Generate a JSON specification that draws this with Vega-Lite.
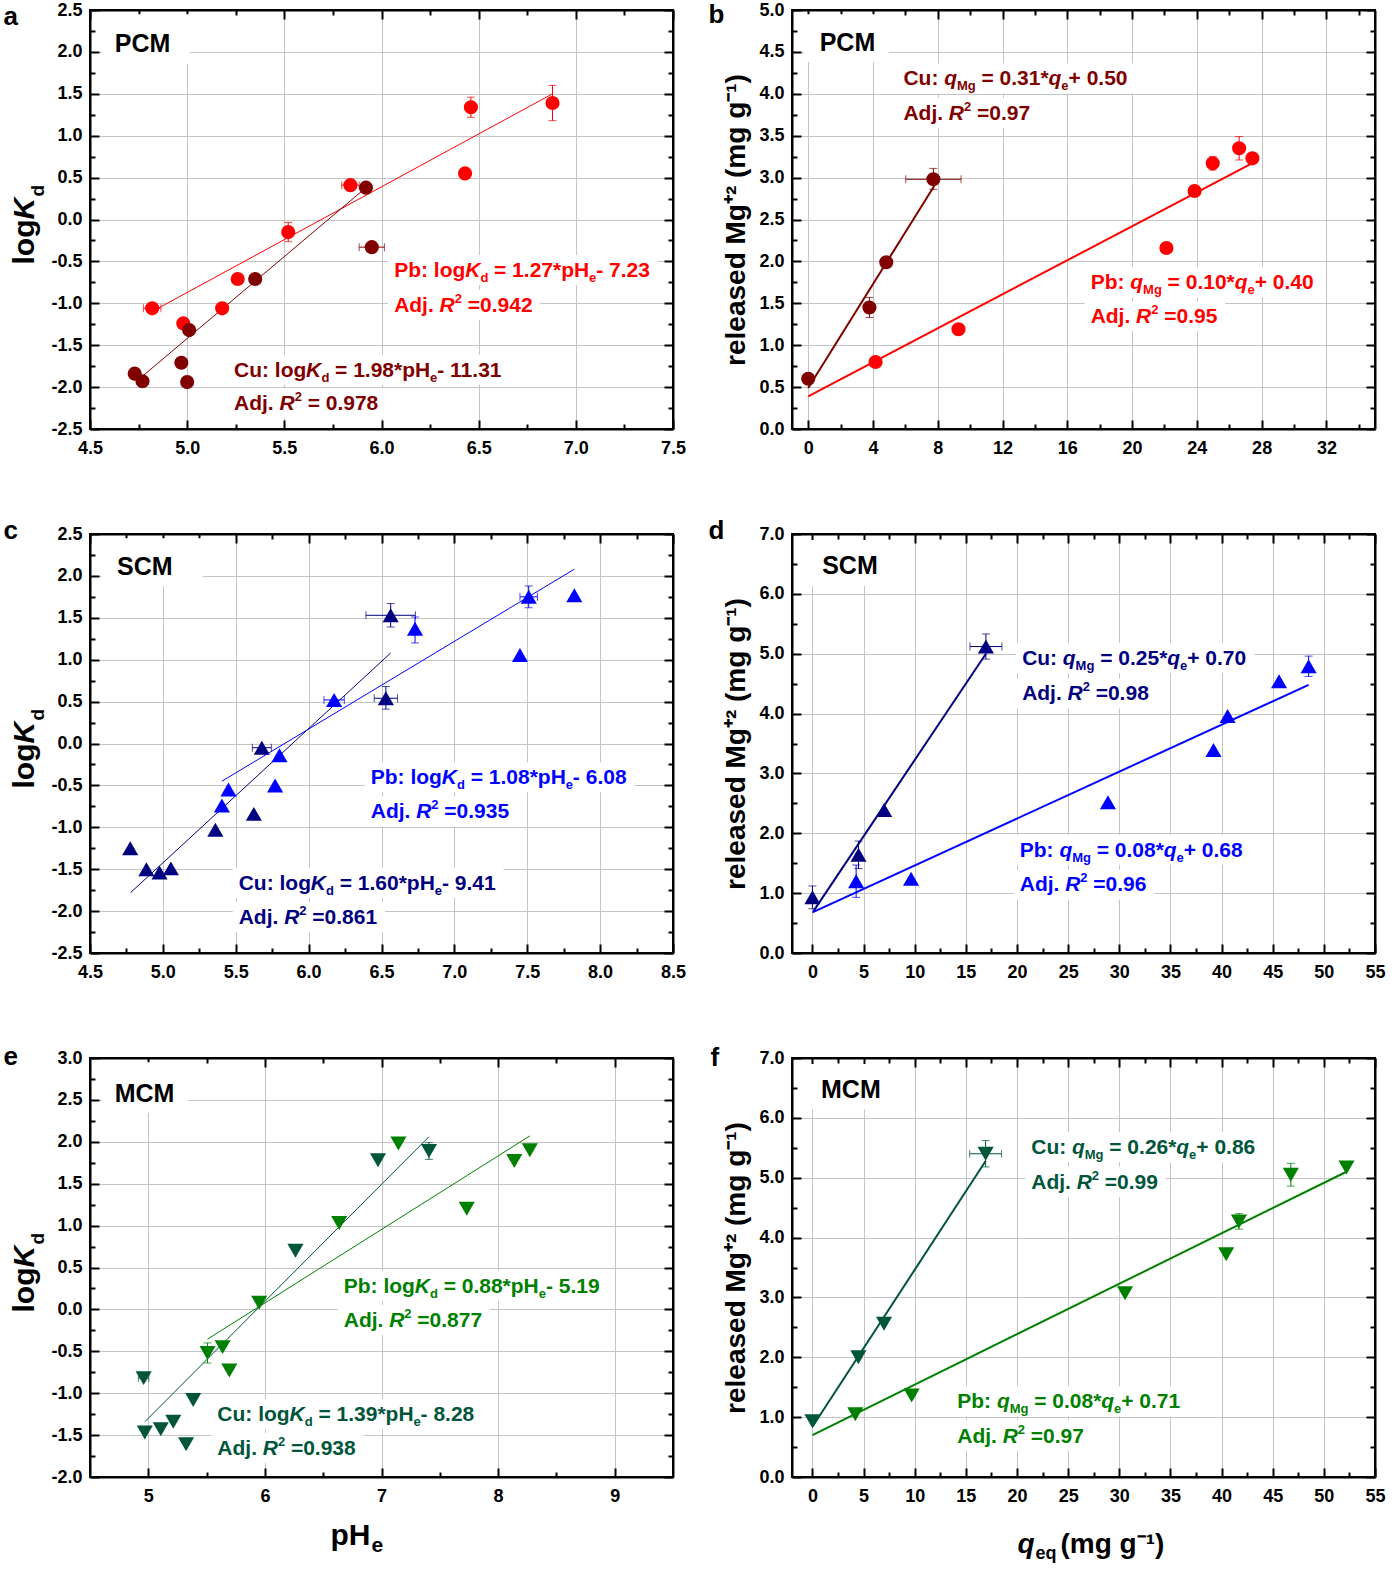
{"$schema":"https://vega.github.io/schema/vega-lite/v6.json",
"background":"white",
"padding":{"left":2,"top":0,"right":5,"bottom":5},
"datasets":{"d":[
{"p":"a","k":"box","x":4.56,"x2":5.015,"y":1.86,"y2":2.45},
{"p":"a","k":"box","x":6.034,"x2":7.422,"y":-0.783,"y2":-0.425},
{"p":"a","k":"box","x":6.034,"x2":6.817,"y":-1.195,"y2":-0.837},
{"p":"a","k":"box","x":5.21,"x2":6.664,"y":-1.971,"y2":-1.613},
{"p":"a","k":"box","x":5.21,"x2":6.024,"y":-2.371,"y2":-2.013},
{"p":"a","k":"pt","s":"Pb","x":4.82,"y":-1.06,"xl":4.775,"xh":4.865},
{"p":"a","k":"pt","s":"Pb","x":4.98,"y":-1.24},
{"p":"a","k":"pt","s":"Pb","x":5.18,"y":-1.06},
{"p":"a","k":"pt","s":"Pb","x":5.26,"y":-0.71},
{"p":"a","k":"pt","s":"Pb","x":5.52,"y":-0.15,"yl":-0.265,"yh":-0.035},
{"p":"a","k":"pt","s":"Pb","x":5.84,"y":0.41,"xl":5.795,"xh":5.885},
{"p":"a","k":"pt","s":"Pb","x":6.43,"y":0.55},
{"p":"a","k":"pt","s":"Pb","x":6.46,"y":1.34,"yl":1.22,"yh":1.46},
{"p":"a","k":"pt","s":"Pb","x":6.88,"y":1.39,"yl":1.18,"yh":1.6},
{"p":"a","k":"pt","s":"Cu","x":4.73,"y":-1.84},
{"p":"a","k":"pt","s":"Cu","x":4.77,"y":-1.93},
{"p":"a","k":"pt","s":"Cu","x":4.97,"y":-1.71},
{"p":"a","k":"pt","s":"Cu","x":5.0,"y":-1.94},
{"p":"a","k":"pt","s":"Cu","x":5.01,"y":-1.32},
{"p":"a","k":"pt","s":"Cu","x":5.35,"y":-0.71},
{"p":"a","k":"pt","s":"Cu","x":5.92,"y":0.38},
{"p":"a","k":"pt","s":"Cu","x":5.95,"y":-0.33,"xl":5.885,"xh":6.015},
{"p":"a","k":"fit","s":"Pb","x":4.85,"y":-1.06},
{"p":"a","k":"fit","s":"Pb","x":6.88,"y":1.5},
{"p":"a","k":"fit","s":"Cu","x":4.77,"y":-1.87},
{"p":"a","k":"fit","s":"Cu","x":5.91,"y":0.36},
{"p":"a","k":"h","x":4.628,"y":2.0,"t":"PCM"},
{"p":"a","k":"m","s":"Pb","x":6.065,"y":-0.688,"t":"Pb: log"},
{"p":"a","k":"i","s":"Pb","x":6.431,"y":-0.688,"t":"K"},
{"p":"a","k":"b","s":"Pb","x":6.509,"y":-0.688,"t":"d"},
{"p":"a","k":"m","s":"Pb","x":6.579,"y":-0.688,"t":"= 1.27*pH"},
{"p":"a","k":"b","s":"Pb","x":7.068,"y":-0.688,"t":"e"},
{"p":"a","k":"m","s":"Pb","x":7.105,"y":-0.688,"t":"- 7.23"},
{"p":"a","k":"m","s":"Pb","x":6.065,"y":-1.1,"t":"Adj."},
{"p":"a","k":"i","s":"Pb","x":6.299,"y":-1.1,"t":"R"},
{"p":"a","k":"u","s":"Pb","x":6.377,"y":-1.1,"t":"2"},
{"p":"a","k":"m","s":"Pb","x":6.444,"y":-1.1,"t":"=0.942"},
{"p":"a","k":"m","s":"Cu","x":5.241,"y":-1.876,"t":"Cu: log"},
{"p":"a","k":"i","s":"Cu","x":5.612,"y":-1.876,"t":"K"},
{"p":"a","k":"b","s":"Cu","x":5.691,"y":-1.876,"t":"d"},
{"p":"a","k":"m","s":"Cu","x":5.761,"y":-1.876,"t":"= 1.98*pH"},
{"p":"a","k":"b","s":"Cu","x":6.25,"y":-1.876,"t":"e"},
{"p":"a","k":"m","s":"Cu","x":6.287,"y":-1.876,"t":"- 11.31"},
{"p":"a","k":"m","s":"Cu","x":5.241,"y":-2.276,"t":"Adj."},
{"p":"a","k":"i","s":"Cu","x":5.475,"y":-2.276,"t":"R"},
{"p":"a","k":"u","s":"Cu","x":5.553,"y":-2.276,"t":"2"},
{"p":"a","k":"m","s":"Cu","x":5.62,"y":-2.276,"t":"= 0.978"},

{"p":"b","k":"box","x":-0.26,"x2":4.98,"y":4.38,"y2":4.95},
{"p":"b","k":"box","x":5.51,"x2":20.2,"y":4.005,"y2":4.363},
{"p":"b","k":"box","x":5.51,"x2":14.19,"y":3.592,"y2":3.95},
{"p":"b","k":"box","x":17.07,"x2":31.7,"y":1.573,"y2":1.931},
{"p":"b","k":"box","x":17.07,"x2":25.75,"y":1.167,"y2":1.525},
{"p":"b","k":"pt","s":"Pb","x":4.16,"y":0.8},
{"p":"b","k":"pt","s":"Pb","x":9.28,"y":1.19},
{"p":"b","k":"pt","s":"Pb","x":22.12,"y":2.16},
{"p":"b","k":"pt","s":"Pb","x":23.86,"y":2.84},
{"p":"b","k":"pt","s":"Pb","x":24.98,"y":3.17,"yl":3.09,"yh":3.25},
{"p":"b","k":"pt","s":"Pb","x":26.61,"y":3.35,"yl":3.21,"yh":3.49},
{"p":"b","k":"pt","s":"Pb","x":27.43,"y":3.23},
{"p":"b","k":"pt","s":"Cu","x":0,"y":0.6},
{"p":"b","k":"pt","s":"Cu","x":3.78,"y":1.45,"yl":1.33,"yh":1.57},
{"p":"b","k":"pt","s":"Cu","x":4.82,"y":1.99},
{"p":"b","k":"pt","s":"Cu","x":7.73,"y":2.98,"xl":6.02,"xh":9.44,"yl":2.86,"yh":3.11},
{"p":"b","k":"fit","s":"Pb","x":0,"y":0.39},
{"p":"b","k":"fit","s":"Pb","x":27.4,"y":3.17},
{"p":"b","k":"fit","s":"Cu","x":0,"y":0.49},
{"p":"b","k":"fit","s":"Cu","x":7.78,"y":2.9},
{"p":"b","k":"h","x":0.71,"y":4.515,"t":"PCM"},
{"p":"b","k":"m","s":"Cu","x":5.88,"y":4.1,"t":"Cu:"},
{"p":"b","k":"i","s":"Cu","x":8.395,"y":4.1,"t":"q"},
{"p":"b","k":"b","s":"Cu","x":9.185,"y":4.1,"t":"Mg"},
{"p":"b","k":"m","s":"Cu","x":10.702,"y":4.1,"t":"= 0.31*"},
{"p":"b","k":"i","s":"Cu","x":14.844,"y":4.1,"t":"q"},
{"p":"b","k":"b","s":"Cu","x":15.633,"y":4.1,"t":"e"},
{"p":"b","k":"m","s":"Cu","x":16.077,"y":4.1,"t":"+ 0.50"},
{"p":"b","k":"m","s":"Cu","x":5.88,"y":3.687,"t":"Adj."},
{"p":"b","k":"i","s":"Cu","x":8.685,"y":3.687,"t":"R"},
{"p":"b","k":"u","s":"Cu","x":9.622,"y":3.687,"t":"2"},
{"p":"b","k":"m","s":"Cu","x":10.424,"y":3.687,"t":"=0.97"},
{"p":"b","k":"m","s":"Pb","x":17.44,"y":1.668,"t":"Pb:"},
{"p":"b","k":"i","s":"Pb","x":19.888,"y":1.668,"t":"q"},
{"p":"b","k":"b","s":"Pb","x":20.677,"y":1.668,"t":"Mg"},
{"p":"b","k":"m","s":"Pb","x":22.194,"y":1.668,"t":"= 0.10*"},
{"p":"b","k":"i","s":"Pb","x":26.336,"y":1.668,"t":"q"},
{"p":"b","k":"b","s":"Pb","x":27.126,"y":1.668,"t":"e"},
{"p":"b","k":"m","s":"Pb","x":27.569,"y":1.668,"t":"+ 0.40"},
{"p":"b","k":"m","s":"Pb","x":17.44,"y":1.262,"t":"Adj."},
{"p":"b","k":"i","s":"Pb","x":20.245,"y":1.262,"t":"R"},
{"p":"b","k":"u","s":"Pb","x":21.182,"y":1.262,"t":"2"},
{"p":"b","k":"m","s":"Pb","x":21.984,"y":1.262,"t":"=0.95"},

{"p":"c","k":"box","x":4.58,"x2":5.275,"y":1.88,"y2":2.45},
{"p":"c","k":"box","x":6.385,"x2":8.236,"y":-0.583,"y2":-0.225},
{"p":"c","k":"box","x":6.385,"x2":7.43,"y":-0.989,"y2":-0.631},
{"p":"c","k":"box","x":5.479,"x2":7.337,"y":-1.843,"y2":-1.485},
{"p":"c","k":"box","x":5.479,"x2":6.524,"y":-2.249,"y2":-1.891},
{"p":"c","k":"pt","s":"Pb","x":5.405,"y":-0.74},
{"p":"c","k":"pt","s":"Pb","x":5.45,"y":-0.55},
{"p":"c","k":"pt","s":"Pb","x":5.77,"y":-0.5},
{"p":"c","k":"pt","s":"Pb","x":5.8,"y":-0.14},
{"p":"c","k":"pt","s":"Pb","x":6.175,"y":0.52,"xl":6.105,"xh":6.245},
{"p":"c","k":"pt","s":"Pb","x":6.73,"y":1.37,"yl":1.2,"yh":1.51},
{"p":"c","k":"pt","s":"Pb","x":7.45,"y":1.055},
{"p":"c","k":"pt","s":"Pb","x":7.51,"y":1.75,"xl":7.45,"xh":7.57,"yl":1.62,"yh":1.88},
{"p":"c","k":"pt","s":"Pb","x":7.823,"y":1.77},
{"p":"c","k":"pt","s":"Cu","x":4.776,"y":-1.25},
{"p":"c","k":"pt","s":"Cu","x":4.887,"y":-1.5},
{"p":"c","k":"pt","s":"Cu","x":4.977,"y":-1.54},
{"p":"c","k":"pt","s":"Cu","x":5.055,"y":-1.49},
{"p":"c","k":"pt","s":"Cu","x":5.36,"y":-1.03},
{"p":"c","k":"pt","s":"Cu","x":5.624,"y":-0.84},
{"p":"c","k":"pt","s":"Cu","x":5.679,"y":-0.05,"xl":5.614,"xh":5.744},
{"p":"c","k":"pt","s":"Cu","x":6.563,"y":1.53,"xl":6.393,"xh":6.733,"yl":1.39,"yh":1.67},
{"p":"c","k":"pt","s":"Cu","x":6.53,"y":0.54,"xl":6.45,"xh":6.61,"yl":0.41,"yh":0.68},
{"p":"c","k":"fit","s":"Cu","x":4.778,"y":-1.78},
{"p":"c","k":"fit","s":"Cu","x":6.563,"y":1.08},
{"p":"c","k":"fit","s":"Pb","x":5.405,"y":-0.45},
{"p":"c","k":"fit","s":"Pb","x":7.823,"y":2.08},
{"p":"c","k":"h","x":4.685,"y":2.012,"t":"SCM"},
{"p":"c","k":"m","s":"Pb","x":6.426,"y":-0.488,"t":"Pb: log"},
{"p":"c","k":"i","s":"Pb","x":6.914,"y":-0.488,"t":"K"},
{"p":"c","k":"b","s":"Pb","x":7.018,"y":-0.488,"t":"d"},
{"p":"c","k":"m","s":"Pb","x":7.112,"y":-0.488,"t":"= 1.08*pH"},
{"p":"c","k":"b","s":"Pb","x":7.764,"y":-0.488,"t":"e"},
{"p":"c","k":"m","s":"Pb","x":7.813,"y":-0.488,"t":"- 6.08"},
{"p":"c","k":"m","s":"Pb","x":6.426,"y":-0.894,"t":"Adj."},
{"p":"c","k":"i","s":"Pb","x":6.738,"y":-0.894,"t":"R"},
{"p":"c","k":"u","s":"Pb","x":6.842,"y":-0.894,"t":"2"},
{"p":"c","k":"m","s":"Pb","x":6.931,"y":-0.894,"t":"=0.935"},
{"p":"c","k":"m","s":"Cu","x":5.52,"y":-1.748,"t":"Cu: log"},
{"p":"c","k":"i","s":"Cu","x":6.015,"y":-1.748,"t":"K"},
{"p":"c","k":"b","s":"Cu","x":6.119,"y":-1.748,"t":"d"},
{"p":"c","k":"m","s":"Cu","x":6.213,"y":-1.748,"t":"= 1.60*pH"},
{"p":"c","k":"b","s":"Cu","x":6.865,"y":-1.748,"t":"e"},
{"p":"c","k":"m","s":"Cu","x":6.915,"y":-1.748,"t":"- 9.41"},
{"p":"c","k":"m","s":"Cu","x":5.52,"y":-2.154,"t":"Adj."},
{"p":"c","k":"i","s":"Cu","x":5.832,"y":-2.154,"t":"R"},
{"p":"c","k":"u","s":"Cu","x":5.936,"y":-2.154,"t":"2"},
{"p":"c","k":"m","s":"Cu","x":6.025,"y":-2.154,"t":"=0.861"},

{"p":"d","k":"box","x":-0.83,"x2":8.5,"y":6.13,"y2":6.9},
{"p":"d","k":"box","x":19.9,"x2":43.2,"y":4.676,"y2":5.178},
{"p":"d","k":"box","x":19.9,"x2":33.7,"y":4.086,"y2":4.588},
{"p":"d","k":"box","x":19.7,"x2":42.8,"y":1.474,"y2":1.976},
{"p":"d","k":"box","x":19.7,"x2":33.4,"y":0.894,"y2":1.396},
{"p":"d","k":"pt","s":"Pb","x":4.27,"y":1.2,"yl":0.93,"yh":1.47},
{"p":"d","k":"pt","s":"Pb","x":9.64,"y":1.24},
{"p":"d","k":"pt","s":"Pb","x":28.89,"y":2.52},
{"p":"d","k":"pt","s":"Pb","x":39.21,"y":3.39},
{"p":"d","k":"pt","s":"Pb","x":40.59,"y":3.96},
{"p":"d","k":"pt","s":"Pb","x":45.62,"y":4.54},
{"p":"d","k":"pt","s":"Pb","x":48.51,"y":4.79,"yl":4.62,"yh":4.96},
{"p":"d","k":"pt","s":"Cu","x":0,"y":0.93,"yl":0.74,"yh":1.12},
{"p":"d","k":"pt","s":"Cu","x":4.5,"y":1.64,"yl":1.41,"yh":1.87},
{"p":"d","k":"pt","s":"Cu","x":7.01,"y":2.39},
{"p":"d","k":"pt","s":"Cu","x":16.96,"y":5.12,"xl":15.4,"xh":18.52,"yl":4.91,"yh":5.33},
{"p":"d","k":"fit","s":"Cu","x":0.1,"y":0.7},
{"p":"d","k":"fit","s":"Cu","x":16.96,"y":5.0},
{"p":"d","k":"fit","s":"Pb","x":0,"y":0.68},
{"p":"d","k":"fit","s":"Pb","x":48.51,"y":4.48},
{"p":"d","k":"h","x":0.95,"y":6.33,"t":"SCM"},
{"p":"d","k":"m","s":"Cu","x":20.5,"y":4.81,"t":"Cu:"},
{"p":"d","k":"i","s":"Cu","x":24.48,"y":4.81,"t":"q"},
{"p":"d","k":"b","s":"Cu","x":25.729,"y":4.81,"t":"Mg"},
{"p":"d","k":"m","s":"Cu","x":28.129,"y":4.81,"t":"= 0.25*"},
{"p":"d","k":"i","s":"Cu","x":34.685,"y":4.81,"t":"q"},
{"p":"d","k":"b","s":"Cu","x":35.934,"y":4.81,"t":"e"},
{"p":"d","k":"m","s":"Cu","x":36.637,"y":4.81,"t":"+ 0.70"},
{"p":"d","k":"m","s":"Cu","x":20.5,"y":4.22,"t":"Adj."},
{"p":"d","k":"i","s":"Cu","x":24.939,"y":4.22,"t":"R"},
{"p":"d","k":"u","s":"Cu","x":26.422,"y":4.22,"t":"2"},
{"p":"d","k":"m","s":"Cu","x":27.69,"y":4.22,"t":"=0.98"},
{"p":"d","k":"m","s":"Pb","x":20.27,"y":1.608,"t":"Pb:"},
{"p":"d","k":"i","s":"Pb","x":24.143,"y":1.608,"t":"q"},
{"p":"d","k":"b","s":"Pb","x":25.392,"y":1.608,"t":"Mg"},
{"p":"d","k":"m","s":"Pb","x":27.792,"y":1.608,"t":"= 0.08*"},
{"p":"d","k":"i","s":"Pb","x":34.348,"y":1.608,"t":"q"},
{"p":"d","k":"b","s":"Pb","x":35.597,"y":1.608,"t":"e"},
{"p":"d","k":"m","s":"Pb","x":36.299,"y":1.608,"t":"+ 0.68"},
{"p":"d","k":"m","s":"Pb","x":20.27,"y":1.028,"t":"Adj."},
{"p":"d","k":"i","s":"Pb","x":24.709,"y":1.028,"t":"R"},
{"p":"d","k":"u","s":"Pb","x":26.192,"y":1.028,"t":"2"},
{"p":"d","k":"m","s":"Pb","x":27.46,"y":1.028,"t":"=0.96"},

{"p":"e","k":"box","x":4.6,"x2":5.343,"y":2.346,"y2":2.95},
{"p":"e","k":"box","x":6.625,"x2":8.937,"y":0.102,"y2":0.46},
{"p":"e","k":"box","x":6.625,"x2":7.93,"y":-0.304,"y2":0.054},
{"p":"e","k":"box","x":5.541,"x2":7.863,"y":-1.424,"y2":-1.066},
{"p":"e","k":"box","x":5.541,"x2":6.846,"y":-1.83,"y2":-1.472},
{"p":"e","k":"pt","s":"Pb","x":5.508,"y":-0.52,"yl":-0.64,"yh":-0.4},
{"p":"e","k":"pt","s":"Pb","x":5.637,"y":-0.45},
{"p":"e","k":"pt","s":"Pb","x":5.695,"y":-0.73},
{"p":"e","k":"pt","s":"Pb","x":5.951,"y":0.08},
{"p":"e","k":"pt","s":"Pb","x":6.637,"y":1.03},
{"p":"e","k":"pt","s":"Pb","x":7.145,"y":1.98},
{"p":"e","k":"pt","s":"Pb","x":7.731,"y":1.2},
{"p":"e","k":"pt","s":"Pb","x":8.139,"y":1.77},
{"p":"e","k":"pt","s":"Pb","x":8.272,"y":1.9},
{"p":"e","k":"pt","s":"Cu","x":4.96,"y":-0.82,"xl":4.915,"xh":5.005},
{"p":"e","k":"pt","s":"Cu","x":4.97,"y":-1.47},
{"p":"e","k":"pt","s":"Cu","x":5.107,"y":-1.43},
{"p":"e","k":"pt","s":"Cu","x":5.214,"y":-1.34},
{"p":"e","k":"pt","s":"Cu","x":5.385,"y":-1.08},
{"p":"e","k":"pt","s":"Cu","x":5.324,"y":-1.61},
{"p":"e","k":"pt","s":"Cu","x":6.262,"y":0.7},
{"p":"e","k":"pt","s":"Cu","x":6.97,"y":1.78},
{"p":"e","k":"pt","s":"Cu","x":7.407,"y":1.89,"yl":1.79,"yh":1.99},
{"p":"e","k":"fit","s":"Cu","x":4.971,"y":-1.34},
{"p":"e","k":"fit","s":"Cu","x":7.407,"y":2.06},
{"p":"e","k":"fit","s":"Pb","x":5.508,"y":-0.355},
{"p":"e","k":"fit","s":"Pb","x":8.272,"y":2.07},
{"p":"e","k":"h","x":4.712,"y":2.472,"t":"MCM"},
{"p":"e","k":"m","s":"Pb","x":6.676,"y":0.197,"t":"Pb: log"},
{"p":"e","k":"i","s":"Pb","x":7.286,"y":0.197,"t":"K"},
{"p":"e","k":"b","s":"Pb","x":7.416,"y":0.197,"t":"d"},
{"p":"e","k":"m","s":"Pb","x":7.533,"y":0.197,"t":"= 0.88*pH"},
{"p":"e","k":"b","s":"Pb","x":8.348,"y":0.197,"t":"e"},
{"p":"e","k":"m","s":"Pb","x":8.41,"y":0.197,"t":"- 5.19"},
{"p":"e","k":"m","s":"Pb","x":6.676,"y":-0.209,"t":"Adj."},
{"p":"e","k":"i","s":"Pb","x":7.066,"y":-0.209,"t":"R"},
{"p":"e","k":"u","s":"Pb","x":7.196,"y":-0.209,"t":"2"},
{"p":"e","k":"m","s":"Pb","x":7.307,"y":-0.209,"t":"=0.877"},
{"p":"e","k":"m","s":"Cu","x":5.592,"y":-1.329,"t":"Cu: log"},
{"p":"e","k":"i","s":"Cu","x":6.211,"y":-1.329,"t":"K"},
{"p":"e","k":"b","s":"Cu","x":6.341,"y":-1.329,"t":"d"},
{"p":"e","k":"m","s":"Cu","x":6.459,"y":-1.329,"t":"= 1.39*pH"},
{"p":"e","k":"b","s":"Cu","x":7.274,"y":-1.329,"t":"e"},
{"p":"e","k":"m","s":"Cu","x":7.335,"y":-1.329,"t":"- 8.28"},
{"p":"e","k":"m","s":"Cu","x":5.592,"y":-1.735,"t":"Adj."},
{"p":"e","k":"i","s":"Cu","x":5.982,"y":-1.735,"t":"R"},
{"p":"e","k":"u","s":"Cu","x":6.112,"y":-1.735,"t":"2"},
{"p":"e","k":"m","s":"Cu","x":6.223,"y":-1.735,"t":"=0.938"},

{"p":"f","k":"box","x":-0.83,"x2":8.5,"y":6.14,"y2":6.9},
{"p":"f","k":"box","x":20.8,"x2":44.06,"y":5.258,"y2":5.76},
{"p":"f","k":"box","x":20.8,"x2":34.55,"y":4.678,"y2":5.18},
{"p":"f","k":"box","x":13.57,"x2":36.72,"y":1.015,"y2":1.517},
{"p":"f","k":"box","x":13.57,"x2":27.32,"y":0.441,"y2":0.943},
{"p":"f","k":"pt","s":"Pb","x":4.19,"y":1.05},
{"p":"f","k":"pt","s":"Pb","x":9.7,"y":1.36},
{"p":"f","k":"pt","s":"Pb","x":30.56,"y":3.07},
{"p":"f","k":"pt","s":"Pb","x":40.45,"y":3.72},
{"p":"f","k":"pt","s":"Pb","x":41.7,"y":4.27,"yl":4.14,"yh":4.4},
{"p":"f","k":"pt","s":"Pb","x":46.77,"y":5.05,"yl":4.86,"yh":5.24},
{"p":"f","k":"pt","s":"Pb","x":52.21,"y":5.17},
{"p":"f","k":"pt","s":"Cu","x":0,"y":0.93},
{"p":"f","k":"pt","s":"Cu","x":4.49,"y":2.0},
{"p":"f","k":"pt","s":"Cu","x":7.0,"y":2.56},
{"p":"f","k":"pt","s":"Cu","x":16.93,"y":5.4,"xl":15.37,"xh":18.49,"yl":5.18,"yh":5.62},
{"p":"f","k":"fit","s":"Cu","x":0,"y":0.84},
{"p":"f","k":"fit","s":"Cu","x":16.93,"y":5.28},
{"p":"f","k":"fit","s":"Pb","x":0,"y":0.7},
{"p":"f","k":"fit","s":"Pb","x":52.21,"y":5.1},
{"p":"f","k":"h","x":0.84,"y":6.34,"t":"MCM"},
{"p":"f","k":"m","s":"Cu","x":21.39,"y":5.392,"t":"Cu:"},
{"p":"f","k":"i","s":"Cu","x":25.37,"y":5.392,"t":"q"},
{"p":"f","k":"b","s":"Cu","x":26.619,"y":5.392,"t":"Mg"},
{"p":"f","k":"m","s":"Cu","x":29.019,"y":5.392,"t":"= 0.26*"},
{"p":"f","k":"i","s":"Cu","x":35.575,"y":5.392,"t":"q"},
{"p":"f","k":"b","s":"Cu","x":36.824,"y":5.392,"t":"e"},
{"p":"f","k":"m","s":"Cu","x":37.527,"y":5.392,"t":"+ 0.86"},
{"p":"f","k":"m","s":"Cu","x":21.39,"y":4.812,"t":"Adj."},
{"p":"f","k":"i","s":"Cu","x":25.829,"y":4.812,"t":"R"},
{"p":"f","k":"u","s":"Cu","x":27.312,"y":4.812,"t":"2"},
{"p":"f","k":"m","s":"Cu","x":28.58,"y":4.812,"t":"=0.99"},
{"p":"f","k":"m","s":"Pb","x":14.16,"y":1.149,"t":"Pb:"},
{"p":"f","k":"i","s":"Pb","x":18.033,"y":1.149,"t":"q"},
{"p":"f","k":"b","s":"Pb","x":19.282,"y":1.149,"t":"Mg"},
{"p":"f","k":"m","s":"Pb","x":21.682,"y":1.149,"t":"= 0.08*"},
{"p":"f","k":"i","s":"Pb","x":28.238,"y":1.149,"t":"q"},
{"p":"f","k":"b","s":"Pb","x":29.487,"y":1.149,"t":"e"},
{"p":"f","k":"m","s":"Pb","x":30.189,"y":1.149,"t":"+ 0.71"},
{"p":"f","k":"m","s":"Pb","x":14.16,"y":0.575,"t":"Adj."},
{"p":"f","k":"i","s":"Pb","x":18.599,"y":0.575,"t":"R"},
{"p":"f","k":"u","s":"Pb","x":20.082,"y":0.575,"t":"2"},
{"p":"f","k":"m","s":"Pb","x":21.35,"y":0.575,"t":"=0.97"}
]},
"data":{"name":"d"},
"columns":2,
"spacing":{"row":105,"column":119},
"bounds":"flush",
"resolve":{"scale":{"x":"independent","y":"independent","color":"independent"}},
"concat":[
{"width":583,"height":419,
"transform":[{"filter":"datum.p=='a'"}],
"encoding":{"x":{"field":"x","type":"quantitative","scale":{"domain":[4.5,7.5],"nice":false,"zero":false},"axis":null},
"y":{"field":"y","type":"quantitative","scale":{"domain":[-2.5,2.5],"nice":false,"zero":false},"axis":null},
"color":{"field":"s","type":"nominal","scale":{"domain":["Cu","Pb"],"range":["#800000","#ff0000"]},"legend":null}},
"resolve":{"axis":{"x":"independent","y":"independent"}},
"layer":[
{"transform":[{"filter":"datum.k=='box'"}],"mark":{"type":"rect"},"encoding":{"x2":{"field":"x2"},"y2":{"field":"y2"},"color":{"value":"white"}}},
{"transform":[{"filter":"datum.k=='fit'"}],"mark":{"type":"line","strokeWidth":1}},
{"transform":[{"filter":"datum.k=='pt' && isValid(datum.xl)"}],"mark":{"type":"errorbar","ticks":true,"size":8,"thickness":1},"encoding":{"x":{"field":"xl","type":"quantitative","scale":{"domain":[4.5,7.5],"nice":false,"zero":false},"axis":null},"x2":{"field":"xh"}}},
{"transform":[{"filter":"datum.k=='pt' && isValid(datum.yl)"}],"mark":{"type":"errorbar","ticks":true,"size":8,"thickness":1},"encoding":{"y":{"field":"yl","type":"quantitative","scale":{"domain":[-2.5,2.5],"nice":false,"zero":false},"axis":null},"y2":{"field":"yh"}}},
{"transform":[{"filter":"datum.k=='pt'"}],"mark":{"type":"point","shape":"circle","filled":true,"size":200,"opacity":1}},
{"transform":[{"filter":"datum.k=='h'"}],"mark":{"type":"text","align":"left","baseline":"alphabetic","fontSize":25,"fontWeight":"bold"},"encoding":{"text":{"field":"t"},"color":{"value":"black"}}},
{"transform":[{"filter":"datum.k=='m'"}],"mark":{"type":"text","align":"left","baseline":"alphabetic","fontSize":21,"fontWeight":"bold"},"encoding":{"text":{"field":"t"}}},
{"transform":[{"filter":"datum.k=='i'"}],"mark":{"type":"text","align":"left","baseline":"alphabetic","fontSize":21,"fontWeight":"bold","fontStyle":"italic"},"encoding":{"text":{"field":"t"}}},
{"transform":[{"filter":"datum.k=='b'"}],"mark":{"type":"text","align":"left","baseline":"alphabetic","fontSize":13,"fontWeight":"bold","dy":5},"encoding":{"text":{"field":"t"}}},
{"transform":[{"filter":"datum.k=='u'"}],"mark":{"type":"text","align":"left","baseline":"alphabetic","fontSize":13,"fontWeight":"bold","dy":-9},"encoding":{"text":{"field":"t"}}},
{"mark":{"type":"point","opacity":0},"encoding":{
"x":{"field":"x","type":"quantitative","scale":{"domain":[4.5,7.5],"nice":false,"zero":false},"axis":{"orient":"bottom","values":[4.5,5,5.5,6,6.5,7,7.5],"format":".1f","tickSize":-9,"labelPadding":19,"grid":true,"domain":true,"title":null}},
"y":{"field":"y","type":"quantitative","scale":{"domain":[-2.5,2.5],"nice":false,"zero":false},"axis":{"orient":"left","values":[-2.5,-2,-1.5,-1,-0.5,0,0.5,1,1.5,2,2.5],"format":".1f","tickSize":-9,"labelPadding":17,"grid":true,"domain":true,"title":"log","titleX":-57,"titleY":254,"titleAngle":-90,"titleAlign":"left","titleBaseline":"alphabetic","titleFontSize":30}}}},
{"mark":{"type":"point","opacity":0},"encoding":{
"x":{"field":"x","type":"quantitative","scale":{"domain":[4.5,7.5],"nice":false,"zero":false},"axis":{"orient":"bottom","values":[4.75,5.25,5.75,6.25,6.75,7.25],"tickSize":-5,"labels":false,"grid":false,"title":null}},
"y":{"field":"y","type":"quantitative","scale":{"domain":[-2.5,2.5],"nice":false,"zero":false},"axis":{"orient":"left","values":[-2.25,-1.75,-1.25,-0.75,-0.25,0.25,0.75,1.25,1.75,2.25],"tickSize":-5,"labels":false,"grid":false,"title":"K","titleX":-57,"titleY":209,"titleAngle":-90,"titleAlign":"left","titleBaseline":"alphabetic","titleFontSize":30,"titleFontStyle":"italic"}}}},
{"mark":{"type":"point","opacity":0},"encoding":{
"x":{"field":"x","type":"quantitative","scale":{"domain":[4.5,7.5],"nice":false,"zero":false},"axis":{"orient":"top","values":[4.5,5,5.5,6,6.5,7,7.5],"tickSize":-9,"labels":false,"grid":false,"domain":true,"title":"a","titleX":-87,"titleY":14,"titleAlign":"left","titleBaseline":"alphabetic","titleAngle":0,"titleFontSize":26}},
"y":{"field":"y","type":"quantitative","scale":{"domain":[-2.5,2.5],"nice":false,"zero":false},"axis":{"orient":"right","values":[-2.5,-2,-1.5,-1,-0.5,0,0.5,1,1.5,2,2.5],"tickSize":-9,"labels":false,"grid":false,"domain":true,"title":null}}}},
{"mark":{"type":"point","opacity":0},"encoding":{
"x":{"field":"x","type":"quantitative","scale":{"domain":[4.5,7.5],"nice":false,"zero":false},"axis":{"orient":"top","values":[4.75,5.25,5.75,6.25,6.75,7.25],"tickSize":-5,"labels":false,"grid":false,"title":null}},
"y":{"field":"y","type":"quantitative","scale":{"domain":[-2.5,2.5],"nice":false,"zero":false},"axis":{"orient":"right","values":[-2.25,-1.75,-1.25,-0.75,-0.25,0.25,0.75,1.25,1.75,2.25],"tickSize":-5,"labels":false,"grid":false,"title":"d","titleX":-630,"titleY":186,"titleAngle":-90,"titleAlign":"left","titleBaseline":"alphabetic","titleFontSize":19}}}}
]},

{"width":583,"height":419,
"transform":[{"filter":"datum.p=='b'"}],
"encoding":{"x":{"field":"x","type":"quantitative","scale":{"domain":[-1,35],"nice":false,"zero":false},"axis":null},
"y":{"field":"y","type":"quantitative","scale":{"domain":[0,5],"nice":false,"zero":false},"axis":null},
"color":{"field":"s","type":"nominal","scale":{"domain":["Cu","Pb"],"range":["#800000","#ff0000"]},"legend":null}},
"resolve":{"axis":{"x":"independent","y":"independent"}},
"layer":[
{"transform":[{"filter":"datum.k=='box'"}],"mark":{"type":"rect"},"encoding":{"x2":{"field":"x2"},"y2":{"field":"y2"},"color":{"value":"white"}}},
{"transform":[{"filter":"datum.k=='fit'"}],"mark":{"type":"line","strokeWidth":2}},
{"transform":[{"filter":"datum.k=='pt' && isValid(datum.xl)"}],"mark":{"type":"errorbar","ticks":true,"size":8,"thickness":1},"encoding":{"x":{"field":"xl","type":"quantitative","scale":{"domain":[-1,35],"nice":false,"zero":false},"axis":null},"x2":{"field":"xh"}}},
{"transform":[{"filter":"datum.k=='pt' && isValid(datum.yl)"}],"mark":{"type":"errorbar","ticks":true,"size":8,"thickness":1},"encoding":{"y":{"field":"yl","type":"quantitative","scale":{"domain":[0,5],"nice":false,"zero":false},"axis":null},"y2":{"field":"yh"}}},
{"transform":[{"filter":"datum.k=='pt'"}],"mark":{"type":"point","shape":"circle","filled":true,"size":200,"opacity":1}},
{"transform":[{"filter":"datum.k=='h'"}],"mark":{"type":"text","align":"left","baseline":"alphabetic","fontSize":25,"fontWeight":"bold"},"encoding":{"text":{"field":"t"},"color":{"value":"black"}}},
{"transform":[{"filter":"datum.k=='m'"}],"mark":{"type":"text","align":"left","baseline":"alphabetic","fontSize":21,"fontWeight":"bold"},"encoding":{"text":{"field":"t"}}},
{"transform":[{"filter":"datum.k=='i'"}],"mark":{"type":"text","align":"left","baseline":"alphabetic","fontSize":21,"fontWeight":"bold","fontStyle":"italic"},"encoding":{"text":{"field":"t"}}},
{"transform":[{"filter":"datum.k=='b'"}],"mark":{"type":"text","align":"left","baseline":"alphabetic","fontSize":13,"fontWeight":"bold","dy":5},"encoding":{"text":{"field":"t"}}},
{"transform":[{"filter":"datum.k=='u'"}],"mark":{"type":"text","align":"left","baseline":"alphabetic","fontSize":13,"fontWeight":"bold","dy":-9},"encoding":{"text":{"field":"t"}}},
{"mark":{"type":"point","opacity":0},"encoding":{
"x":{"field":"x","type":"quantitative","scale":{"domain":[-1,35],"nice":false,"zero":false},"axis":{"orient":"bottom","values":[0,4,8,12,16,20,24,28,32],"format":"d","tickSize":-9,"labelPadding":19,"grid":true,"domain":true,"title":null}},
"y":{"field":"y","type":"quantitative","scale":{"domain":[0,5],"nice":false,"zero":false},"axis":{"orient":"left","values":[0,0.5,1,1.5,2,2.5,3,3.5,4,4.5,5],"format":".1f","tickSize":-9,"labelPadding":17,"grid":true,"domain":true,"title":"released Mg\u207a\u00b2 (mg g\u207b\u00b9)","titleFontSize":28,"titlePadding":8}}}},
{"mark":{"type":"point","opacity":0},"encoding":{
"x":{"field":"x","type":"quantitative","scale":{"domain":[-1,35],"nice":false,"zero":false},"axis":{"orient":"bottom","values":[2,6,10,14,18,22,26,30,34],"tickSize":-5,"labels":false,"grid":false,"title":null}},
"y":{"field":"y","type":"quantitative","scale":{"domain":[0,5],"nice":false,"zero":false},"axis":{"orient":"left","values":[0.25,0.75,1.25,1.75,2.25,2.75,3.25,3.75,4.25,4.75],"tickSize":-5,"labels":false,"grid":false,"title":null}}}},
{"mark":{"type":"point","opacity":0},"encoding":{
"x":{"field":"x","type":"quantitative","scale":{"domain":[-1,35],"nice":false,"zero":false},"axis":{"orient":"top","values":[0,4,8,12,16,20,24,28,32],"tickSize":-9,"labels":false,"grid":false,"domain":true,"title":"b","titleX":-84,"titleY":12,"titleAlign":"left","titleBaseline":"alphabetic","titleAngle":0,"titleFontSize":26}},
"y":{"field":"y","type":"quantitative","scale":{"domain":[0,5],"nice":false,"zero":false},"axis":{"orient":"right","values":[0,0.5,1,1.5,2,2.5,3,3.5,4,4.5,5],"tickSize":-9,"labels":false,"grid":false,"domain":true,"title":null}}}},
{"mark":{"type":"point","opacity":0},"encoding":{
"x":{"field":"x","type":"quantitative","scale":{"domain":[-1,35],"nice":false,"zero":false},"axis":{"orient":"top","values":[2,6,10,14,18,22,26,30,34],"tickSize":-5,"labels":false,"grid":false,"title":null}},
"y":{"field":"y","type":"quantitative","scale":{"domain":[0,5],"nice":false,"zero":false},"axis":{"orient":"right","values":[0.25,0.75,1.25,1.75,2.25,2.75,3.25,3.75,4.25,4.75],"tickSize":-5,"labels":false,"grid":false,"title":null}}}}
]},

{"width":583,"height":419,
"transform":[{"filter":"datum.p=='c'"}],
"encoding":{"x":{"field":"x","type":"quantitative","scale":{"domain":[4.5,8.5],"nice":false,"zero":false},"axis":null},
"y":{"field":"y","type":"quantitative","scale":{"domain":[-2.5,2.5],"nice":false,"zero":false},"axis":null},
"color":{"field":"s","type":"nominal","scale":{"domain":["Cu","Pb"],"range":["#000080","#0000ff"]},"legend":null}},
"resolve":{"axis":{"x":"independent","y":"independent"}},
"layer":[
{"transform":[{"filter":"datum.k=='box'"}],"mark":{"type":"rect"},"encoding":{"x2":{"field":"x2"},"y2":{"field":"y2"},"color":{"value":"white"}}},
{"transform":[{"filter":"datum.k=='fit'"}],"mark":{"type":"line","strokeWidth":1}},
{"transform":[{"filter":"datum.k=='pt' && isValid(datum.xl)"}],"mark":{"type":"errorbar","ticks":true,"size":8,"thickness":1},"encoding":{"x":{"field":"xl","type":"quantitative","scale":{"domain":[4.5,8.5],"nice":false,"zero":false},"axis":null},"x2":{"field":"xh"}}},
{"transform":[{"filter":"datum.k=='pt' && isValid(datum.yl)"}],"mark":{"type":"errorbar","ticks":true,"size":8,"thickness":1},"encoding":{"y":{"field":"yl","type":"quantitative","scale":{"domain":[-2.5,2.5],"nice":false,"zero":false},"axis":null},"y2":{"field":"yh"}}},
{"transform":[{"filter":"datum.k=='pt'"}],"mark":{"type":"point","shape":"triangle-up","filled":true,"size":260,"opacity":1}},
{"transform":[{"filter":"datum.k=='h'"}],"mark":{"type":"text","align":"left","baseline":"alphabetic","fontSize":25,"fontWeight":"bold"},"encoding":{"text":{"field":"t"},"color":{"value":"black"}}},
{"transform":[{"filter":"datum.k=='m'"}],"mark":{"type":"text","align":"left","baseline":"alphabetic","fontSize":21,"fontWeight":"bold"},"encoding":{"text":{"field":"t"}}},
{"transform":[{"filter":"datum.k=='i'"}],"mark":{"type":"text","align":"left","baseline":"alphabetic","fontSize":21,"fontWeight":"bold","fontStyle":"italic"},"encoding":{"text":{"field":"t"}}},
{"transform":[{"filter":"datum.k=='b'"}],"mark":{"type":"text","align":"left","baseline":"alphabetic","fontSize":13,"fontWeight":"bold","dy":5},"encoding":{"text":{"field":"t"}}},
{"transform":[{"filter":"datum.k=='u'"}],"mark":{"type":"text","align":"left","baseline":"alphabetic","fontSize":13,"fontWeight":"bold","dy":-9},"encoding":{"text":{"field":"t"}}},
{"mark":{"type":"point","opacity":0},"encoding":{
"x":{"field":"x","type":"quantitative","scale":{"domain":[4.5,8.5],"nice":false,"zero":false},"axis":{"orient":"bottom","values":[4.5,5,5.5,6,6.5,7,7.5,8,8.5],"format":".1f","tickSize":-9,"labelPadding":19,"grid":true,"domain":true,"title":null}},
"y":{"field":"y","type":"quantitative","scale":{"domain":[-2.5,2.5],"nice":false,"zero":false},"axis":{"orient":"left","values":[-2.5,-2,-1.5,-1,-0.5,0,0.5,1,1.5,2,2.5],"format":".1f","tickSize":-9,"labelPadding":17,"grid":true,"domain":true,"title":"log","titleX":-57,"titleY":254,"titleAngle":-90,"titleAlign":"left","titleBaseline":"alphabetic","titleFontSize":30}}}},
{"mark":{"type":"point","opacity":0},"encoding":{
"x":{"field":"x","type":"quantitative","scale":{"domain":[4.5,8.5],"nice":false,"zero":false},"axis":{"orient":"bottom","values":[4.75,5.25,5.75,6.25,6.75,7.25,7.75,8.25],"tickSize":-5,"labels":false,"grid":false,"title":null}},
"y":{"field":"y","type":"quantitative","scale":{"domain":[-2.5,2.5],"nice":false,"zero":false},"axis":{"orient":"left","values":[-2.25,-1.75,-1.25,-0.75,-0.25,0.25,0.75,1.25,1.75,2.25],"tickSize":-5,"labels":false,"grid":false,"title":"K","titleX":-57,"titleY":209,"titleAngle":-90,"titleAlign":"left","titleBaseline":"alphabetic","titleFontSize":30,"titleFontStyle":"italic"}}}},
{"mark":{"type":"point","opacity":0},"encoding":{
"x":{"field":"x","type":"quantitative","scale":{"domain":[4.5,8.5],"nice":false,"zero":false},"axis":{"orient":"top","values":[4.5,5,5.5,6,6.5,7,7.5,8,8.5],"tickSize":-9,"labels":false,"grid":false,"domain":true,"title":"c","titleX":-87,"titleY":4,"titleAlign":"left","titleBaseline":"alphabetic","titleAngle":0,"titleFontSize":26}},
"y":{"field":"y","type":"quantitative","scale":{"domain":[-2.5,2.5],"nice":false,"zero":false},"axis":{"orient":"right","values":[-2.5,-2,-1.5,-1,-0.5,0,0.5,1,1.5,2,2.5],"tickSize":-9,"labels":false,"grid":false,"domain":true,"title":null}}}},
{"mark":{"type":"point","opacity":0},"encoding":{
"x":{"field":"x","type":"quantitative","scale":{"domain":[4.5,8.5],"nice":false,"zero":false},"axis":{"orient":"top","values":[4.75,5.25,5.75,6.25,6.75,7.25,7.75,8.25],"tickSize":-5,"labels":false,"grid":false,"title":null}},
"y":{"field":"y","type":"quantitative","scale":{"domain":[-2.5,2.5],"nice":false,"zero":false},"axis":{"orient":"right","values":[-2.25,-1.75,-1.25,-0.75,-0.25,0.25,0.75,1.25,1.75,2.25],"tickSize":-5,"labels":false,"grid":false,"title":"d","titleX":-630,"titleY":186,"titleAngle":-90,"titleAlign":"left","titleBaseline":"alphabetic","titleFontSize":19}}}}
]},

{"width":583,"height":419,
"transform":[{"filter":"datum.p=='d'"}],
"encoding":{"x":{"field":"x","type":"quantitative","scale":{"domain":[-2,55],"nice":false,"zero":false},"axis":null},
"y":{"field":"y","type":"quantitative","scale":{"domain":[0,7],"nice":false,"zero":false},"axis":null},
"color":{"field":"s","type":"nominal","scale":{"domain":["Cu","Pb"],"range":["#000080","#0000ff"]},"legend":null}},
"resolve":{"axis":{"x":"independent","y":"independent"}},
"layer":[
{"transform":[{"filter":"datum.k=='box'"}],"mark":{"type":"rect"},"encoding":{"x2":{"field":"x2"},"y2":{"field":"y2"},"color":{"value":"white"}}},
{"transform":[{"filter":"datum.k=='fit'"}],"mark":{"type":"line","strokeWidth":2}},
{"transform":[{"filter":"datum.k=='pt' && isValid(datum.xl)"}],"mark":{"type":"errorbar","ticks":true,"size":8,"thickness":1},"encoding":{"x":{"field":"xl","type":"quantitative","scale":{"domain":[-2,55],"nice":false,"zero":false},"axis":null},"x2":{"field":"xh"}}},
{"transform":[{"filter":"datum.k=='pt' && isValid(datum.yl)"}],"mark":{"type":"errorbar","ticks":true,"size":8,"thickness":1},"encoding":{"y":{"field":"yl","type":"quantitative","scale":{"domain":[0,7],"nice":false,"zero":false},"axis":null},"y2":{"field":"yh"}}},
{"transform":[{"filter":"datum.k=='pt'"}],"mark":{"type":"point","shape":"triangle-up","filled":true,"size":260,"opacity":1}},
{"transform":[{"filter":"datum.k=='h'"}],"mark":{"type":"text","align":"left","baseline":"alphabetic","fontSize":25,"fontWeight":"bold"},"encoding":{"text":{"field":"t"},"color":{"value":"black"}}},
{"transform":[{"filter":"datum.k=='m'"}],"mark":{"type":"text","align":"left","baseline":"alphabetic","fontSize":21,"fontWeight":"bold"},"encoding":{"text":{"field":"t"}}},
{"transform":[{"filter":"datum.k=='i'"}],"mark":{"type":"text","align":"left","baseline":"alphabetic","fontSize":21,"fontWeight":"bold","fontStyle":"italic"},"encoding":{"text":{"field":"t"}}},
{"transform":[{"filter":"datum.k=='b'"}],"mark":{"type":"text","align":"left","baseline":"alphabetic","fontSize":13,"fontWeight":"bold","dy":5},"encoding":{"text":{"field":"t"}}},
{"transform":[{"filter":"datum.k=='u'"}],"mark":{"type":"text","align":"left","baseline":"alphabetic","fontSize":13,"fontWeight":"bold","dy":-9},"encoding":{"text":{"field":"t"}}},
{"mark":{"type":"point","opacity":0},"encoding":{
"x":{"field":"x","type":"quantitative","scale":{"domain":[-2,55],"nice":false,"zero":false},"axis":{"orient":"bottom","values":[0,5,10,15,20,25,30,35,40,45,50,55],"format":"d","tickSize":-9,"labelPadding":19,"grid":true,"domain":true,"title":null}},
"y":{"field":"y","type":"quantitative","scale":{"domain":[0,7],"nice":false,"zero":false},"axis":{"orient":"left","values":[0,1,2,3,4,5,6,7],"format":".1f","tickSize":-9,"labelPadding":17,"grid":true,"domain":true,"title":"released Mg\u207a\u00b2 (mg g\u207b\u00b9)","titleFontSize":28,"titlePadding":8}}}},
{"mark":{"type":"point","opacity":0},"encoding":{
"x":{"field":"x","type":"quantitative","scale":{"domain":[-2,55],"nice":false,"zero":false},"axis":{"orient":"bottom","values":[2.5,7.5,12.5,17.5,22.5,27.5,32.5,37.5,42.5,47.5,52.5],"tickSize":-5,"labels":false,"grid":false,"title":null}},
"y":{"field":"y","type":"quantitative","scale":{"domain":[0,7],"nice":false,"zero":false},"axis":{"orient":"left","values":[0.5,1.5,2.5,3.5,4.5,5.5,6.5],"tickSize":-5,"labels":false,"grid":false,"title":null}}}},
{"mark":{"type":"point","opacity":0},"encoding":{
"x":{"field":"x","type":"quantitative","scale":{"domain":[-2,55],"nice":false,"zero":false},"axis":{"orient":"top","values":[0,5,10,15,20,25,30,35,40,45,50,55],"tickSize":-9,"labels":false,"grid":false,"domain":true,"title":"d","titleX":-84,"titleY":4,"titleAlign":"left","titleBaseline":"alphabetic","titleAngle":0,"titleFontSize":26}},
"y":{"field":"y","type":"quantitative","scale":{"domain":[0,7],"nice":false,"zero":false},"axis":{"orient":"right","values":[0,1,2,3,4,5,6,7],"tickSize":-9,"labels":false,"grid":false,"domain":true,"title":null}}}},
{"mark":{"type":"point","opacity":0},"encoding":{
"x":{"field":"x","type":"quantitative","scale":{"domain":[-2,55],"nice":false,"zero":false},"axis":{"orient":"top","values":[2.5,7.5,12.5,17.5,22.5,27.5,32.5,37.5,42.5,47.5,52.5],"tickSize":-5,"labels":false,"grid":false,"title":null}},
"y":{"field":"y","type":"quantitative","scale":{"domain":[0,7],"nice":false,"zero":false},"axis":{"orient":"right","values":[0.5,1.5,2.5,3.5,4.5,5.5,6.5],"tickSize":-5,"labels":false,"grid":false,"title":null}}}}
]},

{"width":583,"height":419,
"transform":[{"filter":"datum.p=='e'"}],
"encoding":{"x":{"field":"x","type":"quantitative","scale":{"domain":[4.5,9.5],"nice":false,"zero":false},"axis":null},
"y":{"field":"y","type":"quantitative","scale":{"domain":[-2,3],"nice":false,"zero":false},"axis":null},
"color":{"field":"s","type":"nominal","scale":{"domain":["Cu","Pb"],"range":["#00553a","#008000"]},"legend":null}},
"resolve":{"axis":{"x":"independent","y":"independent"}},
"layer":[
{"transform":[{"filter":"datum.k=='box'"}],"mark":{"type":"rect"},"encoding":{"x2":{"field":"x2"},"y2":{"field":"y2"},"color":{"value":"white"}}},
{"transform":[{"filter":"datum.k=='fit'"}],"mark":{"type":"line","strokeWidth":1}},
{"transform":[{"filter":"datum.k=='pt' && isValid(datum.xl)"}],"mark":{"type":"errorbar","ticks":true,"size":8,"thickness":1},"encoding":{"x":{"field":"xl","type":"quantitative","scale":{"domain":[4.5,9.5],"nice":false,"zero":false},"axis":null},"x2":{"field":"xh"}}},
{"transform":[{"filter":"datum.k=='pt' && isValid(datum.yl)"}],"mark":{"type":"errorbar","ticks":true,"size":8,"thickness":1},"encoding":{"y":{"field":"yl","type":"quantitative","scale":{"domain":[-2,3],"nice":false,"zero":false},"axis":null},"y2":{"field":"yh"}}},
{"transform":[{"filter":"datum.k=='pt'"}],"mark":{"type":"point","shape":"triangle-down","filled":true,"size":260,"opacity":1}},
{"transform":[{"filter":"datum.k=='h'"}],"mark":{"type":"text","align":"left","baseline":"alphabetic","fontSize":25,"fontWeight":"bold"},"encoding":{"text":{"field":"t"},"color":{"value":"black"}}},
{"transform":[{"filter":"datum.k=='m'"}],"mark":{"type":"text","align":"left","baseline":"alphabetic","fontSize":21,"fontWeight":"bold"},"encoding":{"text":{"field":"t"}}},
{"transform":[{"filter":"datum.k=='i'"}],"mark":{"type":"text","align":"left","baseline":"alphabetic","fontSize":21,"fontWeight":"bold","fontStyle":"italic"},"encoding":{"text":{"field":"t"}}},
{"transform":[{"filter":"datum.k=='b'"}],"mark":{"type":"text","align":"left","baseline":"alphabetic","fontSize":13,"fontWeight":"bold","dy":5},"encoding":{"text":{"field":"t"}}},
{"transform":[{"filter":"datum.k=='u'"}],"mark":{"type":"text","align":"left","baseline":"alphabetic","fontSize":13,"fontWeight":"bold","dy":-9},"encoding":{"text":{"field":"t"}}},
{"mark":{"type":"point","opacity":0},"encoding":{
"x":{"field":"x","type":"quantitative","scale":{"domain":[4.5,9.5],"nice":false,"zero":false},"axis":{"orient":"bottom","values":[5,6,7,8,9],"format":"d","tickSize":-9,"labelPadding":19,"grid":true,"domain":true,"title":"pH","titleX":240,"titleY":67,"titleAngle":0,"titleAlign":"left","titleBaseline":"alphabetic","titleFontSize":30}},
"y":{"field":"y","type":"quantitative","scale":{"domain":[-2,3],"nice":false,"zero":false},"axis":{"orient":"left","values":[-2,-1.5,-1,-0.5,0,0.5,1,1.5,2,2.5,3],"format":".1f","tickSize":-9,"labelPadding":17,"grid":true,"domain":true,"title":"log","titleX":-57,"titleY":254,"titleAngle":-90,"titleAlign":"left","titleBaseline":"alphabetic","titleFontSize":30}}}},
{"mark":{"type":"point","opacity":0},"encoding":{
"x":{"field":"x","type":"quantitative","scale":{"domain":[4.5,9.5],"nice":false,"zero":false},"axis":{"orient":"bottom","values":[5.5,6.5,7.5,8.5],"tickSize":-5,"labels":false,"grid":false,"title":"e","titleX":281,"titleY":74,"titleAngle":0,"titleAlign":"left","titleBaseline":"alphabetic","titleFontSize":21}},
"y":{"field":"y","type":"quantitative","scale":{"domain":[-2,3],"nice":false,"zero":false},"axis":{"orient":"left","values":[-1.75,-1.25,-0.75,-0.25,0.25,0.75,1.25,1.75,2.25,2.75],"tickSize":-5,"labels":false,"grid":false,"title":"K","titleX":-57,"titleY":209,"titleAngle":-90,"titleAlign":"left","titleBaseline":"alphabetic","titleFontSize":30,"titleFontStyle":"italic"}}}},
{"mark":{"type":"point","opacity":0},"encoding":{
"x":{"field":"x","type":"quantitative","scale":{"domain":[4.5,9.5],"nice":false,"zero":false},"axis":{"orient":"top","values":[5,6,7,8,9],"tickSize":-9,"labels":false,"grid":false,"domain":true,"title":"e","titleX":-87,"titleY":6,"titleAlign":"left","titleBaseline":"alphabetic","titleAngle":0,"titleFontSize":26}},
"y":{"field":"y","type":"quantitative","scale":{"domain":[-2,3],"nice":false,"zero":false},"axis":{"orient":"right","values":[-2,-1.5,-1,-0.5,0,0.5,1,1.5,2,2.5,3],"tickSize":-9,"labels":false,"grid":false,"domain":true,"title":null}}}},
{"mark":{"type":"point","opacity":0},"encoding":{
"x":{"field":"x","type":"quantitative","scale":{"domain":[4.5,9.5],"nice":false,"zero":false},"axis":{"orient":"top","values":[5.5,6.5,7.5,8.5],"tickSize":-5,"labels":false,"grid":false,"title":null}},
"y":{"field":"y","type":"quantitative","scale":{"domain":[-2,3],"nice":false,"zero":false},"axis":{"orient":"right","values":[-1.75,-1.25,-0.75,-0.25,0.25,0.75,1.25,1.75,2.25,2.75],"tickSize":-5,"labels":false,"grid":false,"title":"d","titleX":-630,"titleY":186,"titleAngle":-90,"titleAlign":"left","titleBaseline":"alphabetic","titleFontSize":19}}}}
]},

{"width":583,"height":419,
"transform":[{"filter":"datum.p=='f'"}],
"encoding":{"x":{"field":"x","type":"quantitative","scale":{"domain":[-2,55],"nice":false,"zero":false},"axis":null},
"y":{"field":"y","type":"quantitative","scale":{"domain":[0,7],"nice":false,"zero":false},"axis":null},
"color":{"field":"s","type":"nominal","scale":{"domain":["Cu","Pb"],"range":["#00553a","#008000"]},"legend":null}},
"resolve":{"axis":{"x":"independent","y":"independent"}},
"layer":[
{"transform":[{"filter":"datum.k=='box'"}],"mark":{"type":"rect"},"encoding":{"x2":{"field":"x2"},"y2":{"field":"y2"},"color":{"value":"white"}}},
{"transform":[{"filter":"datum.k=='fit'"}],"mark":{"type":"line","strokeWidth":2}},
{"transform":[{"filter":"datum.k=='pt' && isValid(datum.xl)"}],"mark":{"type":"errorbar","ticks":true,"size":8,"thickness":1},"encoding":{"x":{"field":"xl","type":"quantitative","scale":{"domain":[-2,55],"nice":false,"zero":false},"axis":null},"x2":{"field":"xh"}}},
{"transform":[{"filter":"datum.k=='pt' && isValid(datum.yl)"}],"mark":{"type":"errorbar","ticks":true,"size":8,"thickness":1},"encoding":{"y":{"field":"yl","type":"quantitative","scale":{"domain":[0,7],"nice":false,"zero":false},"axis":null},"y2":{"field":"yh"}}},
{"transform":[{"filter":"datum.k=='pt'"}],"mark":{"type":"point","shape":"triangle-down","filled":true,"size":260,"opacity":1}},
{"transform":[{"filter":"datum.k=='h'"}],"mark":{"type":"text","align":"left","baseline":"alphabetic","fontSize":25,"fontWeight":"bold"},"encoding":{"text":{"field":"t"},"color":{"value":"black"}}},
{"transform":[{"filter":"datum.k=='m'"}],"mark":{"type":"text","align":"left","baseline":"alphabetic","fontSize":21,"fontWeight":"bold"},"encoding":{"text":{"field":"t"}}},
{"transform":[{"filter":"datum.k=='i'"}],"mark":{"type":"text","align":"left","baseline":"alphabetic","fontSize":21,"fontWeight":"bold","fontStyle":"italic"},"encoding":{"text":{"field":"t"}}},
{"transform":[{"filter":"datum.k=='b'"}],"mark":{"type":"text","align":"left","baseline":"alphabetic","fontSize":13,"fontWeight":"bold","dy":5},"encoding":{"text":{"field":"t"}}},
{"transform":[{"filter":"datum.k=='u'"}],"mark":{"type":"text","align":"left","baseline":"alphabetic","fontSize":13,"fontWeight":"bold","dy":-9},"encoding":{"text":{"field":"t"}}},
{"mark":{"type":"point","opacity":0},"encoding":{
"x":{"field":"x","type":"quantitative","scale":{"domain":[-2,55],"nice":false,"zero":false},"axis":{"orient":"bottom","values":[0,5,10,15,20,25,30,35,40,45,50,55],"format":"d","tickSize":-9,"labelPadding":19,"grid":true,"domain":true,"title":"q","titleX":225,"titleY":75,"titleAngle":0,"titleAlign":"left","titleBaseline":"alphabetic","titleFontSize":28,"titleFontStyle":"italic"}},
"y":{"field":"y","type":"quantitative","scale":{"domain":[0,7],"nice":false,"zero":false},"axis":{"orient":"left","values":[0,1,2,3,4,5,6,7],"format":".1f","tickSize":-9,"labelPadding":17,"grid":true,"domain":true,"title":"released Mg\u207a\u00b2 (mg g\u207b\u00b9)","titleFontSize":28,"titlePadding":8}}}},
{"mark":{"type":"point","opacity":0},"encoding":{
"x":{"field":"x","type":"quantitative","scale":{"domain":[-2,55],"nice":false,"zero":false},"axis":{"orient":"bottom","values":[2.5,7.5,12.5,17.5,22.5,27.5,32.5,37.5,42.5,47.5,52.5],"tickSize":-5,"labels":false,"grid":false,"title":"eq","titleX":243,"titleY":81,"titleAngle":0,"titleAlign":"left","titleBaseline":"alphabetic","titleFontSize":18}},
"y":{"field":"y","type":"quantitative","scale":{"domain":[0,7],"nice":false,"zero":false},"axis":{"orient":"left","values":[0.5,1.5,2.5,3.5,4.5,5.5,6.5],"tickSize":-5,"labels":false,"grid":false,"title":null}}}},
{"mark":{"type":"point","opacity":0},"encoding":{
"x":{"field":"x","type":"quantitative","scale":{"domain":[-2,55],"nice":false,"zero":false},"axis":{"orient":"top","values":[0,5,10,15,20,25,30,35,40,45,50,55],"tickSize":-9,"labels":false,"grid":false,"domain":true,"title":"f","titleX":-82,"titleY":7,"titleAlign":"left","titleBaseline":"alphabetic","titleAngle":0,"titleFontSize":26}},
"y":{"field":"y","type":"quantitative","scale":{"domain":[0,7],"nice":false,"zero":false},"axis":{"orient":"right","values":[0,1,2,3,4,5,6,7],"tickSize":-9,"labels":false,"grid":false,"domain":true,"title":null}}}},
{"mark":{"type":"point","opacity":0},"encoding":{
"x":{"field":"x","type":"quantitative","scale":{"domain":[-2,55],"nice":false,"zero":false},"axis":{"orient":"top","values":[2.5,7.5,12.5,17.5,22.5,27.5,32.5,37.5,42.5,47.5,52.5],"tickSize":-5,"labels":false,"grid":false,"title":"(mg g\u207b\u00b9)","titleX":268,"titleY":494,"titleAngle":0,"titleAlign":"left","titleBaseline":"alphabetic","titleFontSize":28}},
"y":{"field":"y","type":"quantitative","scale":{"domain":[0,7],"nice":false,"zero":false},"axis":{"orient":"right","values":[0.5,1.5,2.5,3.5,4.5,5.5,6.5],"tickSize":-5,"labels":false,"grid":false,"title":null}}}}
]}
],
"config":{
"font":"Liberation Sans",
"locale":{"number":{"decimal":".","thousands":",","grouping":[3],"currency":["$",""],"minus":"-"}},
"view":{"stroke":"black","strokeWidth":2},
"axis":{"minExtent":0,"domain":false,"domainColor":"black","domainWidth":2,"tickColor":"black","tickWidth":2,"labelFont":"Liberation Sans","labelFontSize":18,"labelFontWeight":"bold","labelColor":"black","labelFlush":false,"labelOverlap":false,"gridColor":"#c4c4c4","gridWidth":1,"titleFont":"Liberation Sans","titleFontWeight":"bold","titleColor":"black","titleFontSize":30},
"title":{"font":"Liberation Sans","color":"black"}
}}
